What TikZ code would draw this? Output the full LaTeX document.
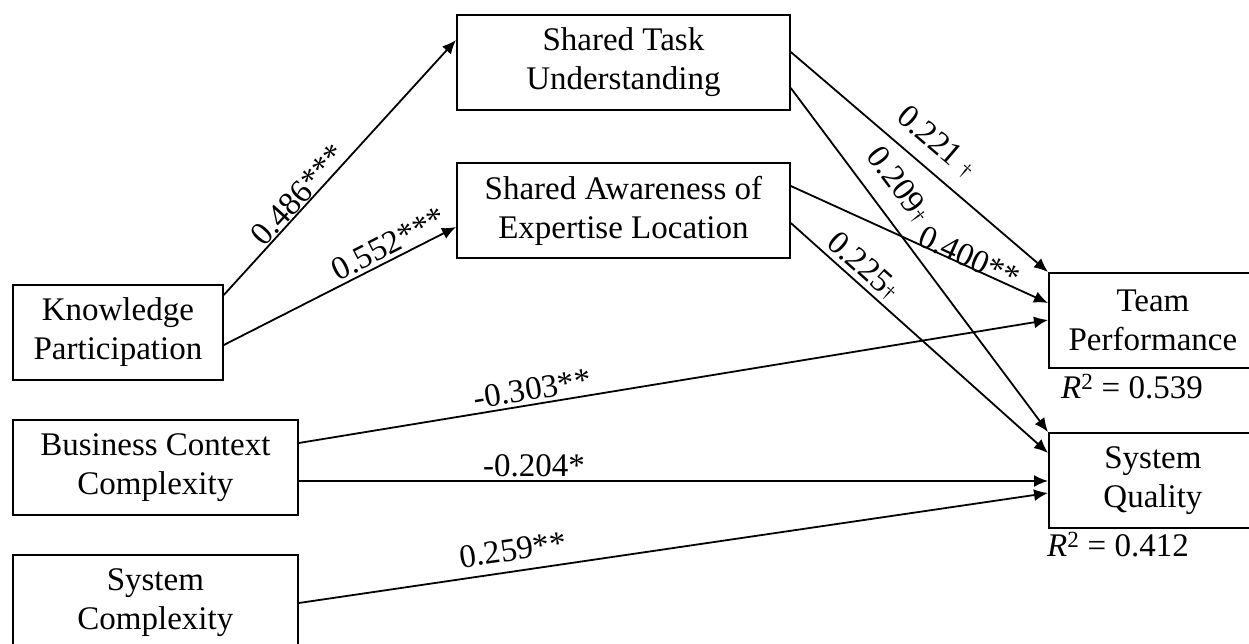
\documentclass[tikz,border=0pt]{standalone}
\usepackage{fontspec}
\setmainfont{Liberation Serif}
\usetikzlibrary{arrows.meta,calc}
\newcommand{\sdag}{{\fontsize{20}{20}\selectfont †}}
\begin{document}
	\begin{tikzpicture}[x=1pt,y=-1pt,
		every node/.style={font=\fontsize{33}{39}\selectfont},
		box/.style={draw,line width=1.8pt,anchor=north west,align=center,inner sep=0pt,minimum height=95pt},
		arr/.style={line width=1.8pt,-{Latex[length=14pt,width=12pt]}}]
		\useasboundingbox (0,0) rectangle (1249,644);
		\draw (456,14) node(stu)[box,minimum width=333pt]{Shared Task\\Understanding};
		\draw (456,162) node(sael)[box,minimum width=333pt]{Shared Awareness of\\Expertise Location};
		\draw (12,284) node(kp)[box,minimum width=210pt]{Knowledge\\Participation};
		\draw (12,419) node(bcc)[box,minimum width=285pt]{Business Context\\Complexity};
		\draw (12,554) node(sc)[box,minimum width=285pt]{System\\Complexity};
		\draw (1048,272) node(tp)[box,minimum width=208pt]{Team\\Performance};
		\draw (1048,432) node(sq)[box,minimum width=208pt]{System\\Quality};
		\draw (1132,387) node(r2tp){\textit{R}\textsuperscript{2} = 0.539};
		\draw (1118,545) node(r2sq){\textit{R}\textsuperscript{2} = 0.412};
		\draw[arr] ($(kp.north east)+(0,11)$) -- node(w1)[sloped,above=-3pt,pos=0.36]{0.486***} ($(stu.north west)+(0,26)$);
		\draw[arr] ($(kp.north east)+(0,61)$) -- node(w2)[sloped,above,pos=0.74]{0.552***} ($(sael.north west)+(0,65)$);
		\draw[arr] ($(stu.north east)+(0,38)$) -- node(w3)[sloped,above=10pt,pos=0.5]{0.221 \sdag} (tp.north west);
		\draw[arr] ($(stu.north east)+(0,74)$) -- node(w4)[sloped,above=12pt,pos=0.33]{0.209\sdag} (sq.north west);
		\draw[arr] ($(sael.north east)+(0,24)$) -- node(w5)[sloped,above=-6pt,pos=0.68]{0.400**} ($(tp.north west)+(0,31)$);
		\draw[arr] ($(sael.north east)+(0,61)$) -- node(w6)[sloped,above,pos=0.24]{0.225\sdag} ($(sq.north west)+(0,21)$);
		\draw[arr] ($(bcc.north east)+(0,24)$) -- node(w7)[sloped,above,pos=0.315]{-0.303**} ($(tp.north west)+(0,48)$);
		\draw[arr] ($(bcc.north east)+(0,62)$) -- node(w8)[above,pos=0.314]{-0.204*} ($(sq.north west)+(0,49)$);
		\draw[arr] ($(sc.north east)+(0,49)$) -- node(w9)[sloped,above=6pt,pos=0.29]{0.259**} ($(sq.north west)+(0,61)$);
	\end{tikzpicture}
\end{document}
